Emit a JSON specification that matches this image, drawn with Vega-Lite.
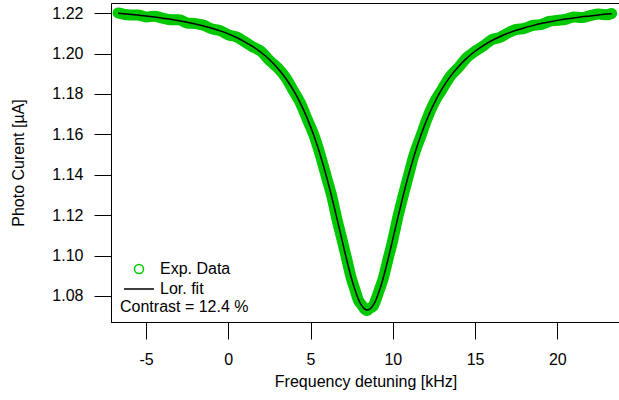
{
  "$schema": "https://vega.github.io/schema/vega-lite/v6.json",
  "autosize": {"type": "none"},
  "padding": {"left": 111, "top": 3, "right": 0, "bottom": 78},
  "width": 509,
  "height": 319,
  "config": {
    "font": "Liberation Sans",
    "view": {"stroke": "black", "strokeWidth": 1},
    "axis": {"grid": false, "domainColor": "black", "tickColor": "black", "labelColor": "black", "titleColor": "black", "labelFontSize": 16, "titleFontSize": 16, "titleFontWeight": "normal", "tickSize": 17, "domainWidth": 1, "tickWidth": 1}
  },
  "datasets": {
    "d": [
      {"series": "Exp. Data", "f": -6.7, "y": 1.2201}, {"series": "Exp. Data", "f": -6, "y": 1.2191}, {"series": "Exp. Data", "f": -5.5, "y": 1.2191}, {"series": "Exp. Data", "f": -5, "y": 1.2181}, {"series": "Exp. Data", "f": -4.5, "y": 1.2184}, {"series": "Exp. Data", "f": -4, "y": 1.2175}, {"series": "Exp. Data", "f": -3.5, "y": 1.2167}, {"series": "Exp. Data", "f": -3, "y": 1.2167}, {"series": "Exp. Data", "f": -2.5, "y": 1.2151}, {"series": "Exp. Data", "f": -2, "y": 1.2148}, {"series": "Exp. Data", "f": -1.5, "y": 1.214}, {"series": "Exp. Data", "f": -1, "y": 1.2122}, {"series": "Exp. Data", "f": -0.5, "y": 1.2113}, {"series": "Exp. Data", "f": 0, "y": 1.2092}, {"series": "Exp. Data", "f": 0.5, "y": 1.2082}, {"series": "Exp. Data", "f": 1, "y": 1.2058}, {"series": "Exp. Data", "f": 1.5, "y": 1.2032}, {"series": "Exp. Data", "f": 2, "y": 1.201}, {"series": "Exp. Data", "f": 2.5, "y": 1.1966}, {"series": "Exp. Data", "f": 3, "y": 1.1929}, {"series": "Exp. Data", "f": 3.5, "y": 1.188}, {"series": "Exp. Data", "f": 4, "y": 1.1809}, {"series": "Exp. Data", "f": 4.4, "y": 1.1752}, {"series": "Exp. Data", "f": 4.8, "y": 1.1674}, {"series": "Exp. Data", "f": 5.2, "y": 1.1597}, {"series": "Exp. Data", "f": 5.6, "y": 1.1495}, {"series": "Exp. Data", "f": 6.0, "y": 1.1379}, {"series": "Exp. Data", "f": 6.3, "y": 1.1291}, {"series": "Exp. Data", "f": 6.6, "y": 1.1181}, {"series": "Exp. Data", "f": 6.9, "y": 1.1083}, {"series": "Exp. Data", "f": 7.2, "y": 1.0982}, {"series": "Exp. Data", "f": 7.5, "y": 1.0881}, {"series": "Exp. Data", "f": 7.7, "y": 1.0831}, {"series": "Exp. Data", "f": 7.9, "y": 1.078}, {"series": "Exp. Data", "f": 8.1, "y": 1.0756}, {"series": "Exp. Data", "f": 8.3, "y": 1.0734}, {"series": "Exp. Data", "f": 8.45, "y": 1.0728}, {"series": "Exp. Data", "f": 8.6, "y": 1.0739}, {"series": "Exp. Data", "f": 8.8, "y": 1.0749}, {"series": "Exp. Data", "f": 9.0, "y": 1.0787}, {"series": "Exp. Data", "f": 9.2, "y": 1.0834}, {"series": "Exp. Data", "f": 9.4, "y": 1.0881}, {"series": "Exp. Data", "f": 9.7, "y": 1.0979}, {"series": "Exp. Data", "f": 10.0, "y": 1.1076}, {"series": "Exp. Data", "f": 10.3, "y": 1.1188}, {"series": "Exp. Data", "f": 10.6, "y": 1.1286}, {"series": "Exp. Data", "f": 10.9, "y": 1.1379}, {"series": "Exp. Data", "f": 11.3, "y": 1.15}, {"series": "Exp. Data", "f": 11.7, "y": 1.159}, {"series": "Exp. Data", "f": 12.1, "y": 1.1681}, {"series": "Exp. Data", "f": 12.5, "y": 1.1755}, {"series": "Exp. Data", "f": 13, "y": 1.1823}, {"series": "Exp. Data", "f": 13.5, "y": 1.1888}, {"series": "Exp. Data", "f": 14, "y": 1.1931}, {"series": "Exp. Data", "f": 14.5, "y": 1.198}, {"series": "Exp. Data", "f": 15, "y": 1.2011}, {"series": "Exp. Data", "f": 15.5, "y": 1.2037}, {"series": "Exp. Data", "f": 16, "y": 1.2068}, {"series": "Exp. Data", "f": 16.5, "y": 1.2079}, {"series": "Exp. Data", "f": 17, "y": 1.2102}, {"series": "Exp. Data", "f": 17.5, "y": 1.2119}, {"series": "Exp. Data", "f": 18, "y": 1.2124}, {"series": "Exp. Data", "f": 18.5, "y": 1.2139}, {"series": "Exp. Data", "f": 19, "y": 1.2143}, {"series": "Exp. Data", "f": 19.5, "y": 1.2159}, {"series": "Exp. Data", "f": 20, "y": 1.2164}, {"series": "Exp. Data", "f": 20.5, "y": 1.2169}, {"series": "Exp. Data", "f": 21, "y": 1.2181}, {"series": "Exp. Data", "f": 21.5, "y": 1.2178}, {"series": "Exp. Data", "f": 22, "y": 1.2188}, {"series": "Exp. Data", "f": 22.5, "y": 1.2195}, {"series": "Exp. Data", "f": 23, "y": 1.2192}, {"series": "Exp. Data", "f": 23.3, "y": 1.2198},
      {"series": "Lor. fit", "f": -6.7, "y": 1.2199}, {"series": "Lor. fit", "f": -6, "y": 1.2194}, {"series": "Lor. fit", "f": -5.5, "y": 1.219}, {"series": "Lor. fit", "f": -5, "y": 1.2186}, {"series": "Lor. fit", "f": -4.5, "y": 1.2181}, {"series": "Lor. fit", "f": -4, "y": 1.2175}, {"series": "Lor. fit", "f": -3.5, "y": 1.2169}, {"series": "Lor. fit", "f": -3, "y": 1.2162}, {"series": "Lor. fit", "f": -2.5, "y": 1.2155}, {"series": "Lor. fit", "f": -2, "y": 1.2146}, {"series": "Lor. fit", "f": -1.5, "y": 1.2136}, {"series": "Lor. fit", "f": -1, "y": 1.2125}, {"series": "Lor. fit", "f": -0.5, "y": 1.2112}, {"series": "Lor. fit", "f": 0, "y": 1.2097}, {"series": "Lor. fit", "f": 0.5, "y": 1.2079}, {"series": "Lor. fit", "f": 1, "y": 1.2058}, {"series": "Lor. fit", "f": 1.5, "y": 1.2034}, {"series": "Lor. fit", "f": 2, "y": 1.2005}, {"series": "Lor. fit", "f": 2.5, "y": 1.197}, {"series": "Lor. fit", "f": 3, "y": 1.1927}, {"series": "Lor. fit", "f": 3.5, "y": 1.1876}, {"series": "Lor. fit", "f": 4, "y": 1.1812}, {"series": "Lor. fit", "f": 4.4, "y": 1.1751}, {"series": "Lor. fit", "f": 4.8, "y": 1.1679}, {"series": "Lor. fit", "f": 5.2, "y": 1.1594}, {"series": "Lor. fit", "f": 5.6, "y": 1.1495}, {"series": "Lor. fit", "f": 6.0, "y": 1.1381}, {"series": "Lor. fit", "f": 6.3, "y": 1.1286}, {"series": "Lor. fit", "f": 6.6, "y": 1.1185}, {"series": "Lor. fit", "f": 6.9, "y": 1.1081}, {"series": "Lor. fit", "f": 7.2, "y": 1.0978}, {"series": "Lor. fit", "f": 7.5, "y": 1.0884}, {"series": "Lor. fit", "f": 7.7, "y": 1.083}, {"series": "Lor. fit", "f": 7.9, "y": 1.0785}, {"series": "Lor. fit", "f": 8.1, "y": 1.0753}, {"series": "Lor. fit", "f": 8.3, "y": 1.0734}, {"series": "Lor. fit", "f": 8.45, "y": 1.073}, {"series": "Lor. fit", "f": 8.6, "y": 1.0734}, {"series": "Lor. fit", "f": 8.8, "y": 1.0753}, {"series": "Lor. fit", "f": 9.0, "y": 1.0785}, {"series": "Lor. fit", "f": 9.2, "y": 1.083}, {"series": "Lor. fit", "f": 9.4, "y": 1.0884}, {"series": "Lor. fit", "f": 9.7, "y": 1.0978}, {"series": "Lor. fit", "f": 10.0, "y": 1.1081}, {"series": "Lor. fit", "f": 10.3, "y": 1.1185}, {"series": "Lor. fit", "f": 10.6, "y": 1.1286}, {"series": "Lor. fit", "f": 10.9, "y": 1.1381}, {"series": "Lor. fit", "f": 11.3, "y": 1.1495}, {"series": "Lor. fit", "f": 11.7, "y": 1.1594}, {"series": "Lor. fit", "f": 12.1, "y": 1.1679}, {"series": "Lor. fit", "f": 12.5, "y": 1.1751}, {"series": "Lor. fit", "f": 13, "y": 1.1826}, {"series": "Lor. fit", "f": 13.5, "y": 1.1887}, {"series": "Lor. fit", "f": 14, "y": 1.1936}, {"series": "Lor. fit", "f": 14.5, "y": 1.1977}, {"series": "Lor. fit", "f": 15, "y": 1.2011}, {"series": "Lor. fit", "f": 15.5, "y": 1.2039}, {"series": "Lor. fit", "f": 16, "y": 1.2063}, {"series": "Lor. fit", "f": 16.5, "y": 1.2083}, {"series": "Lor. fit", "f": 17, "y": 1.21}, {"series": "Lor. fit", "f": 17.5, "y": 1.2115}, {"series": "Lor. fit", "f": 18, "y": 1.2127}, {"series": "Lor. fit", "f": 18.5, "y": 1.2138}, {"series": "Lor. fit", "f": 19, "y": 1.2148}, {"series": "Lor. fit", "f": 19.5, "y": 1.2156}, {"series": "Lor. fit", "f": 20, "y": 1.2164}, {"series": "Lor. fit", "f": 20.5, "y": 1.2171}, {"series": "Lor. fit", "f": 21, "y": 1.2176}, {"series": "Lor. fit", "f": 21.5, "y": 1.2182}, {"series": "Lor. fit", "f": 22, "y": 1.2186}, {"series": "Lor. fit", "f": 22.5, "y": 1.2191}, {"series": "Lor. fit", "f": 23, "y": 1.2195}, {"series": "Lor. fit", "f": 23.3, "y": 1.2197}
    ]
  },
  "data": {"name": "d"},
  "encoding": {
    "x": {"field": "f", "type": "quantitative", "scale": {"domain": [-7.13, 23.81], "nice": false, "zero": false},
      "axis": {"title": "Frequency detuning [kHz]", "values": [-5, 0, 5, 10, 15, 20], "labelExpr": "replace(datum.label, '−', '-')", "tickSize": 17, "labelPadding": 12, "titlePadding": 6}},
    "y": {"field": "y", "type": "quantitative", "scale": {"domain": [1.06708, 1.225], "nice": false, "zero": false},
      "axis": {"title": "Photo Curent [µA]", "values": [1.08, 1.1, 1.12, 1.14, 1.16, 1.18, 1.2, 1.22], "format": ".2f", "tickSize": 17, "labelPadding": 11, "titlePadding": 25}}
  },
  "layer": [
    {
      "transform": [{"filter": "datum.series === 'Exp. Data'"}],
      "mark": {"type": "line", "color": "#00c800", "strokeWidth": 11, "strokeCap": "round", "strokeJoin": "round", "interpolate": "monotone"}
    },
    {
      "transform": [{"filter": "datum.series === 'Exp. Data'"}],
      "mark": {"type": "point", "filled": false, "strokeWidth": 2, "size": 202, "opacity": 1},
      "encoding": {
        "color": {"field": "series", "type": "nominal",
          "scale": {"domain": ["Exp. Data", "Lor. fit"], "range": ["#00c800", "black"]},
          "legend": {"title": "Contrast = 12.4 %", "orient": "none", "legendX": 9, "legendY": 257, "titleOrient": "bottom", "titleFontSize": 16, "titleFontWeight": "normal", "titleColor": "black", "labelFontSize": 16, "labelColor": "black", "symbolSize": 256, "symbolOffset": 10, "labelOffset": 12, "rowPadding": 3, "titlePadding": 2, "padding": 0}},
        "shape": {"field": "series", "type": "nominal",
          "scale": {"domain": ["Exp. Data", "Lor. fit"], "range": ["M0.5625,0A0.5625,0.5625,0,1,1,-0.5625,0A0.5625,0.5625,0,1,1,0.5625,0Z", "M-1.875,0L1.875,0"]},
          "legend": {"title": "Contrast = 12.4 %", "orient": "none", "legendX": 9, "legendY": 257, "titleOrient": "bottom", "titleFontSize": 16, "titleFontWeight": "normal", "titleColor": "black", "labelFontSize": 16, "labelColor": "black", "symbolSize": 256, "symbolOffset": 10, "labelOffset": 12, "rowPadding": 3, "titlePadding": 2, "padding": 0}}
      }
    },
    {
      "transform": [{"filter": "datum.series === 'Lor. fit'"}],
      "mark": {"type": "line", "strokeWidth": 1.5, "interpolate": "monotone"},
      "encoding": {
        "color": {"field": "series", "type": "nominal"}
      }
    }
  ]
}
